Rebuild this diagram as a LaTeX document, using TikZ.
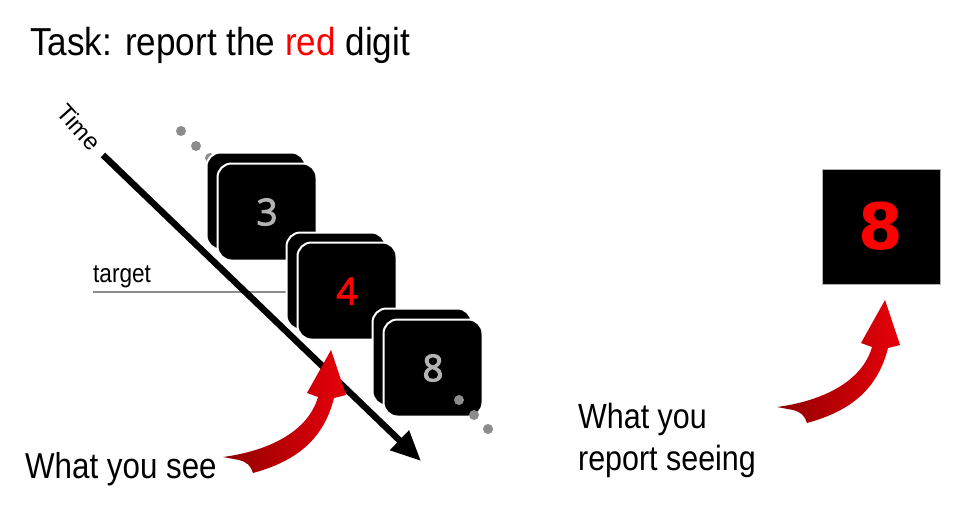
\documentclass[tikz,border=0pt]{standalone}
\usepackage{fontspec}
\setmainfont{Liberation Sans}
\newfontfamily\digitfont[FakeBold=2.5]{Open Sans}
\newfontfamily\bigdigitfont{DejaVu Sans}
\usetikzlibrary{arrows.meta,positioning,calc}
\definecolor{dotGray}{HTML}{8C8C8C}
\definecolor{digitGray}{HTML}{B4B4B4}
\definecolor{redTxt}{HTML}{FF0000}
\definecolor{redDark}{HTML}{8E0000}
\definecolor{redLight}{HTML}{E8000A}

\begin{document}
\begin{tikzpicture}[x=1pt,y=-1pt,card/.style={draw=white,line width=2pt,fill=black,rounded corners=14pt,minimum width=99pt,minimum height=97pt,inner sep=0pt},num/.style={font=\digitfont\fontsize{37}{37}\selectfont,text=digitGray},lbl/.style={inner sep=0pt,anchor=base west},arr/.style={-{Triangle[length=30pt,width=26pt]},line width=6.5pt},dot/.style={fill=dotGray},swoosh/.pic={\shade[left color=redDark,right color=redLight] (0,0) .. controls (45,-6) and (85,-25) .. (95,-60) -- (84,-64) -- (108,-107) -- (123,-62) -- (111,-59) .. controls (100,-15) and (70,5) .. (30,16) .. controls (28,9) and (24,5) .. (16,3) -- cycle;}]
    \useasboundingbox (0,0) rectangle (975,531);
    \fill[dot] (181,131) circle (5pt) (196,146) circle (5pt) (210,158) circle (5pt);
    \node[lbl,xscale=0.87,font=\fontsize{26}{26}\selectfont] (tg) at (93,282) {target};
    \draw[dotGray,line width=1.5pt] ([yshift=-10pt]tg.base west) -- ++(207,0);
    \node[card] (b1a) at (256,201) {};
    \node[card,num] (b1) at (267,212) {3};
    \node[card] (b2a) at (336,281) {};
    \node[card,num,text=redTxt] (b2) at (347,291) {4};
    \node[card] (b3a) at (422,357) {};
    \node[card,num] (b3) at (433,368) {8};
    \coordinate (t0) at (103,155);
    \coordinate (t1) at (421,461);
    \draw[arr] (t0) -- (t1);
    \node[rotate=-48,font=\fontsize{24}{24}\selectfont,inner sep=0pt] (time) at (79,127) {Time};
    \fill[dot] (459,400) circle (5pt) (474,415) circle (5pt) (488,429) circle (5pt);
    \node[fill=black,draw=gray!60,minimum width=118pt,minimum height=115pt,inner sep=0pt,font=\bigdigitfont\bfseries\fontsize{64}{64}\selectfont,text=redTxt] (rep) at (881,226.5) {8};
    \pic at (223,457) {swoosh};
    \pic at (777,407) {swoosh};
    \node[lbl,xscale=0.9,font=\fontsize{39}{39}\selectfont] (title) at (30,55) {Task: report the \textcolor{redTxt}{red} digit};
    \node[lbl,xscale=0.87,font=\fontsize{36}{36}\selectfont] (see) at (25,478) {What you see};
    \node[inner sep=0pt,anchor=north west,align=left,xscale=0.87,font=\fontsize{35}{42}\selectfont] (said) at (578,403) {What you\\report seeing};
  \end{tikzpicture}
\end{document}
